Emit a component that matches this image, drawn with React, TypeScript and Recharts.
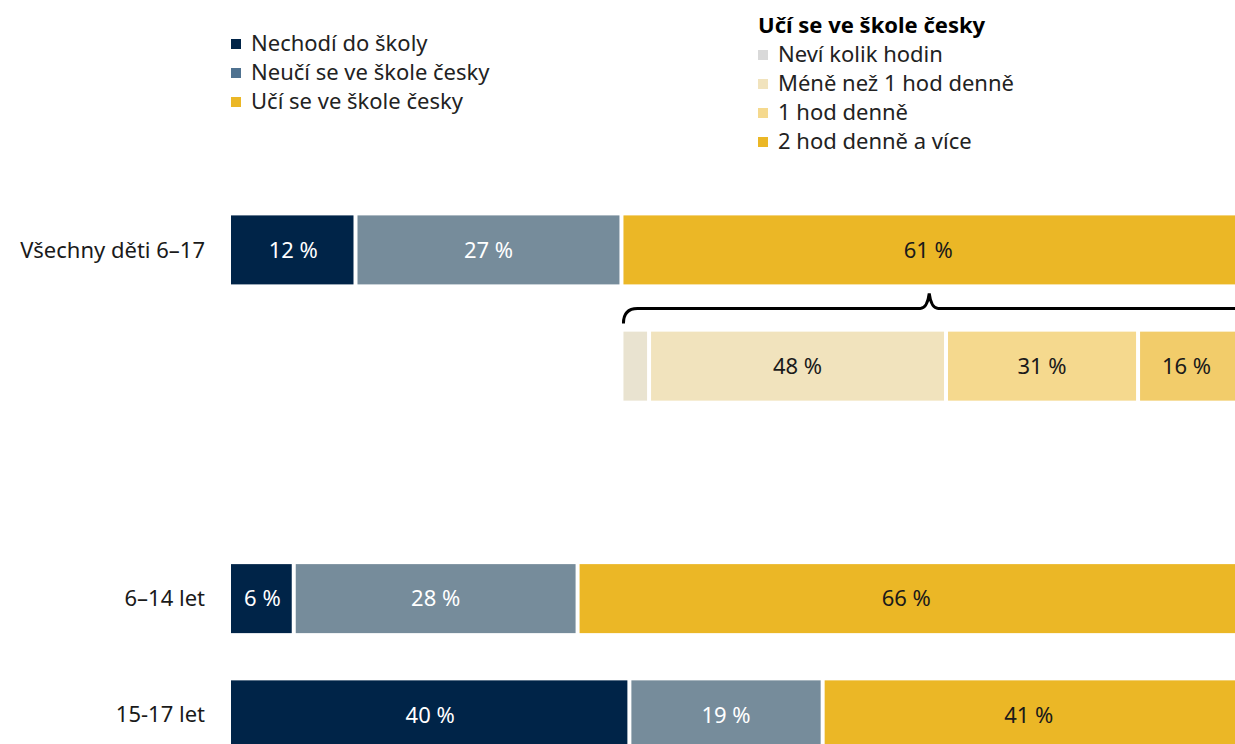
import React from "react";
import { BarChart, Bar, XAxis, YAxis, LabelList } from "recharts";

const rowIds = ["all", "sub", "gap", "young", "old"];
const rowLabels = ["Všechny děti 6–17", "", "", "6–14 let", "15-17 let"];

// main groups (% of children), bar lengths
const nechodi = [12.4, null, null, 6.25, 39.68];
const neuci = [26.49, null, null, 28.27, 19.25];
const uci = [61.11, null, null, 65.48, 41.07];
// printed labels
const nechodiLabels = [12, null, null, 6, 40];
const neuciLabels = [27, null, null, 28, 19];
const uciLabels = [61, null, null, 66, 41];

// breakdown of "Učí se ve škole česky" for all children (% of that group)
const breakdownShares = [4.5, 48.4, 31.3, 15.8];
const breakdownLabels = [null, 48, 31, 16];

const mainLegend = ["Nechodí do školy", "Neučí se ve škole česky", "Učí se ve škole česky"];
const mainLegendColors = ["#002448", "#4f7290", "#ebb726"];
const subLegendTitle = "Učí se ve škole česky";
const subLegend = ["Neví kolik hodin", "Méně než 1 hod denně", "1 hod denně", "2 hod denně a více"];
const subLegendColors = ["#d9d9d9", "#f1e3bd", "#f5d98e", "#ebb726"];

const C_NAVY = "#002448";
const C_GREY = "#768c9b";
const C_YELLOW = "#ebb726";
const C_NEVI = "#e9e3d0";
const C_MENE = "#f1e3bd";
const C_JEDNA = "#f5d98e";
const C_DVE = "#f2cc6a";

const FONT = "'Noto Sans', sans-serif";
const FS = 22;

const subKeys = ["nevi", "mene", "jedna", "dve"];
const data = rowIds.map((id, i) => {
  const row: any = {
    id,
    label: rowLabels[i],
    nechodi: nechodi[i],
    neuci: neuci[i],
    uci: uci[i],
    nechodiLbl: nechodiLabels[i],
    neuciLbl: neuciLabels[i],
    uciLbl: uciLabels[i],
  };
  if (id === "sub") {
    const total = uci[0] as number;
    row.spacer = (nechodi[0] as number) + (neuci[0] as number);
    subKeys.forEach((k, j) => {
      row[k] = (breakdownShares[j] * total) / 100;
      row[k + "Lbl"] = breakdownLabels[j];
    });
  }
  return row;
});

const makeShape = (insetL: number, insetR: number, brace = false) => (props: any) => {
  const { x, y, width, height, fill, index } = props;
  if (width == null || height == null || !(width > 0)) return <g />;
  const rx = x + insetL;
  const rw = Math.max(0, width - insetL - insetR);
  let braceEl = null;
  if (brace && index === 0) {
    const x0 = rx;
    const x1 = x + width;
    const mid = (x0 + x1) / 2;
    const yl = y + height + 24;
    const yb = y + height + 39;
    const yp = y + height + 9;
    const d = `M ${x0} ${yb} Q ${x0} ${yl} ${x0 + 14} ${yl} L ${mid - 9} ${yl} Q ${mid - 2} ${yl} ${mid} ${yp} Q ${mid + 2} ${yl} ${mid + 9} ${yl} L ${x1} ${yl}`;
    braceEl = <path d={d} fill="none" stroke="#000" strokeWidth={3} />;
  }
  return (
    <g>
      <rect x={rx} y={y} width={rw} height={height} fill={fill} />
      {braceEl}
    </g>
  );
};

const fmt = (v: any) => (v == null ? "" : `${v} %`);

const YTick = (props: any) => {
  const { y, payload } = props;
  const idx = rowIds.indexOf(payload.value);
  return (
    <text x={205} y={y} dy={8} textAnchor="end" fontFamily={FONT} fontSize={FS} fill="#1a1a1a">
      {rowLabels[idx]}
    </text>
  );
};

const labelStyleLight = { fill: "#ffffff", fontFamily: FONT, fontSize: FS };
const labelStyleDark = { fill: "#1a1a1a", fontFamily: FONT, fontSize: FS };

const Square = ({ color }: { color: string }) => (
  <span style={{ display: "inline-block", width: 10, height: 10, background: color, marginRight: 10, marginTop: 4, flex: "none" }} />
);

export default function App() {
  return (
    <div style={{ position: "absolute", left: 0, top: 0, width: 1235, height: 744, overflow: "hidden", background: "#fff" }}>
      <div style={{ position: "absolute", left: 231, top: 27.5, fontFamily: FONT, fontSize: FS, lineHeight: "29px", color: "#222" }}>
        {mainLegend.map((t, i) => (
          <div key={t} style={{ display: "flex", alignItems: "center", whiteSpace: "nowrap" }}>
            <Square color={mainLegendColors[i]} />
            <span>{t}</span>
          </div>
        ))}
      </div>
      <div style={{ position: "absolute", left: 758, top: 9.5, fontFamily: FONT, fontSize: FS, lineHeight: "29px", color: "#222" }}>
        <div style={{ fontWeight: 700, color: "#000", whiteSpace: "nowrap" }}>{subLegendTitle}</div>
        {subLegend.map((t, i) => (
          <div key={t} style={{ display: "flex", alignItems: "center", whiteSpace: "nowrap" }}>
            <Square color={subLegendColors[i]} />
            <span>{t}</span>
          </div>
        ))}
      </div>
      <div style={{ position: "absolute", left: 0, top: 0 }}>
        <BarChart
          width={1235}
          height={744}
          data={data}
          layout="vertical"
          margin={{ top: 191.4, right: 0, bottom: -28.6, left: 11 }}
          barSize={69}
        >
          <XAxis type="number" domain={[0, 100]} hide />
          <YAxis type="category" dataKey="id" width={220} axisLine={false} tickLine={false} tick={<YTick />} interval={0} />
          <Bar dataKey="nechodi" stackId="a" fill={C_NAVY} isAnimationActive={false} shape={makeShape(0, 2)}>
            <LabelList dataKey="nechodiLbl" position="center" formatter={fmt} style={labelStyleLight} />
          </Bar>
          <Bar dataKey="neuci" stackId="a" fill={C_GREY} isAnimationActive={false} shape={makeShape(2, 2)}>
            <LabelList dataKey="neuciLbl" position="center" formatter={fmt} style={labelStyleLight} />
          </Bar>
          <Bar dataKey="uci" stackId="a" fill={C_YELLOW} isAnimationActive={false} shape={makeShape(2, 0, true)}>
            <LabelList dataKey="uciLbl" position="center" formatter={fmt} style={labelStyleDark} />
          </Bar>
          <Bar dataKey="spacer" stackId="a" fill="transparent" isAnimationActive={false} shape={makeShape(0, 0)} />
          <Bar dataKey="nevi" stackId="a" fill={C_NEVI} isAnimationActive={false} shape={makeShape(2, 2)} />
          <Bar dataKey="mene" stackId="a" fill={C_MENE} isAnimationActive={false} shape={makeShape(2, 2)}>
            <LabelList dataKey="meneLbl" position="center" formatter={fmt} style={labelStyleDark} />
          </Bar>
          <Bar dataKey="jedna" stackId="a" fill={C_JEDNA} isAnimationActive={false} shape={makeShape(2, 2)}>
            <LabelList dataKey="jednaLbl" position="center" formatter={fmt} style={labelStyleDark} />
          </Bar>
          <Bar dataKey="dve" stackId="a" fill={C_DVE} isAnimationActive={false} shape={makeShape(2, 0)}>
            <LabelList dataKey="dveLbl" position="center" formatter={fmt} style={labelStyleDark} />
          </Bar>
        </BarChart>
      </div>
    </div>
  );
}
